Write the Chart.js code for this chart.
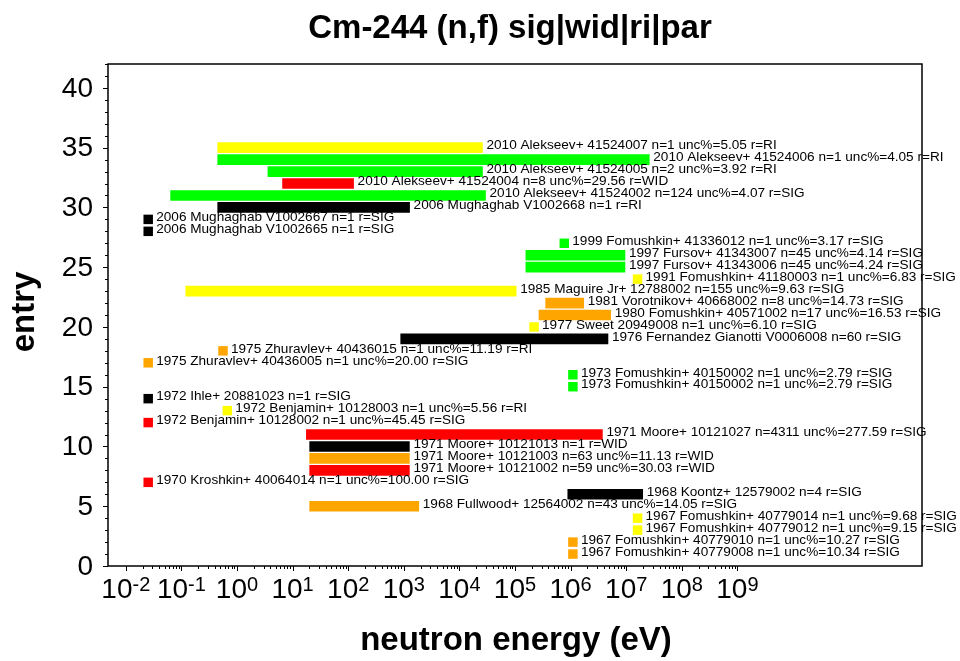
<!DOCTYPE html>
<html>
<head>
<meta charset="utf-8">
<script src="https://cdn.jsdelivr.net/npm/chart.js@4/dist/chart.umd.min.js"></script>
<style>
body { margin: 0; background: #fff; }
</style>
</head>
<body>
<canvas id="chart" width="960" height="661"></canvas>
<script>
// one entry per row, top of the plot first
var rows     = [35, 34, 33, 32, 31, 30, 29, 28, 27, 26, 25, 24, 23, 22, 21, 20, 19, 18, 17, 16, 15, 14, 13, 12, 11, 10, 9, 8, 7, 6, 5, 4, 3, 2, 1]
var years    = [2010, 2010, 2010, 2010, 2010, 2006, 2006, 2006, 1999, 1997, 1997, 1991, 1985, 1981, 1980, 1977, 1976, 1975, 1975, 1973, 1973, 1972, 1972, 1972, 1971, 1971, 1971, 1971, 1970, 1968, 1968, 1967, 1967, 1967, 1967]
var authors  = ["Alekseev+", "Alekseev+", "Alekseev+", "Alekseev+", "Alekseev+", "Mughaghab", "Mughaghab", "Mughaghab", "Fomushkin+", "Fursov+", "Fursov+", "Fomushkin+", "Maguire Jr+", "Vorotnikov+", "Fomushkin+", "Sweet", "Fernandez Gianotti", "Zhuravlev+", "Zhuravlev+", "Fomushkin+", "Fomushkin+", "Ihle+", "Benjamin+", "Benjamin+", "Moore+", "Moore+", "Moore+", "Moore+", "Kroshkin+", "Koontz+", "Fullwood+", "Fomushkin+", "Fomushkin+", "Fomushkin+", "Fomushkin+"]
var entryIds = ["41524007", "41524006", "41524005", "41524004", "41524002", "V1002668", "V1002667", "V1002665", "41336012", "41343007", "41343006", "41180003", "12788002", "40668002", "40571002", "20949008", "V0006008", "40436015", "40436005", "40150002", "40150002", "20881023", "10128003", "10128002", "10121027", "10121013", "10121003", "10121002", "40064014", "12579002", "12564002", "40779014", "40779012", "40779010", "40779008"]
var counts   = [1, 1, 2, 8, 124, 1, 1, 1, 1, 45, 45, 1, 155, 8, 17, 1, 60, 1, 1, 1, 1, 1, 1, 1, 4311, 1, 63, 59, 1, 4, 43, 1, 1, 1, 1]
var uncs     = [5.05, 4.05, 3.92, 29.56, 4.07, null, null, null, 3.17, 4.14, 4.24, 6.83, 9.63, 14.73, 16.53, 6.10, null, 11.19, 20.00, 2.79, 2.79, null, 5.56, 45.45, 277.59, null, 11.13, 30.03, 100.00, null, 14.05, 9.68, 9.15, 10.27, 10.34]
var quantity = ["RI", "RI", "RI", "WID", "SIG", "RI", "SIG", "SIG", "SIG", "SIG", "SIG", "SIG", "SIG", "SIG", "SIG", "SIG", "SIG", "RI", "SIG", "SIG", "SIG", "SIG", "RI", "SIG", "SIG", "WID", "WID", "WID", "SIG", "SIG", "SIG", "SIG", "SIG", "SIG", "SIG"]
// energy range in eV (eHigh null = single energy point)
var eLow     = [0.45, 0.45, 3.6, 6.6, 0.064, 0.45, 0.0253, 0.0253, 7.7e5, 1.57e5, 1.57e5, 1.6e7, 0.12, 3.56e5, 2.7e5, 2.2e5, 880, 0.56, 0.0253, 1.1e6, 1.1e6, 0.0253, 0.67, 0.0253, 17.7, 20.3, 20.3, 20.3, 0.0253, 8.9e5, 20.3, 1.6e7, 1.6e7, 1.1e6, 1.1e6]
var eHigh    = [2.6e4, 2.6e7, 2.6e4, 125, 2.95e4, 1270, null, null, null, 9.5e6, 9.5e6, null, 1.05e5, 1.72e6, 5.25e6, null, 4.7e6, null, null, null, null, null, null, null, 3.73e6, 1260, 1260, 1260, null, 1.98e7, 1860, null, null, null, null]

var xTickExps = [-2, -1, 0, 1, 2, 3, 4, 5, 6, 7, 8, 9]
var yTickLabels = [0, 5, 10, 15, 20, 25, 30, 35, 40]

function uncColor(u) {
    if (u == null) return "#000000"
    if (u < 5) return "#00ff00"
    if (u < 10) return "#ffff00"
    if (u <= 20) return "#ffa500"
    return "#ff0000"
}

function entryLabel(i) {
    var s = years[i] + " " + authors[i] + " " + entryIds[i] + " n=" + counts[i]
    if (uncs[i] != null) s += " unc%=" + uncs[i].toFixed(2)
    return s + " r=" + quantity[i]
}

var barData = [], barColors = [], pointData = [], pointColors = []
for (var i = 0; i < rows.length; i++) {
    if (eHigh[i] != null) {
        barData.push({x: [eLow[i], eHigh[i]], y: rows[i]})
        barColors.push(uncColor(uncs[i]))
    } else {
        pointData.push({x: eLow[i], y: rows[i]})
        pointColors.push(uncColor(uncs[i]))
    }
}

var FONT = "'Liberation Sans', Arial, sans-serif"

var decorPlugin = {
    id: "decor",
    afterDatasetsDraw: function(chart) {
        var ctx = chart.ctx
        var area = chart.chartArea
        var xs = chart.scales.x
        var ys = chart.scales.y
        ctx.save()

        // frame
        ctx.strokeStyle = "#000"
        ctx.lineWidth = 1.5
        ctx.strokeRect(area.left, area.top, area.right - area.left, area.bottom - area.top)

        // y ticks, major every 5, minor every 1
        ctx.lineWidth = 1
        ctx.beginPath()
        for (var v = 0; v <= 42; v++) {
            var py = Math.round(ys.getPixelForValue(v)) + 0.5
            var len = (v % 5 == 0) ? 5 : 3
            ctx.moveTo(area.left - len, py)
            ctx.lineTo(area.left, py)
        }
        // x ticks, decades and 2..9 between them
        for (var k = 0; k < xTickExps.length; k++) {
            var d = xTickExps[k]
            var px = Math.round(xs.getPixelForValue(Math.pow(10, d))) + 0.5
            ctx.moveTo(px, area.bottom)
            ctx.lineTo(px, area.bottom + 5)
            if (k < xTickExps.length - 1) {
                for (var m = 2; m <= 9; m++) {
                    var pm = Math.round(xs.getPixelForValue(m * Math.pow(10, d))) + 0.5
                    ctx.moveTo(pm, area.bottom)
                    ctx.lineTo(pm, area.bottom + 3)
                }
            }
        }
        ctx.stroke()

        // y tick labels
        ctx.fillStyle = "#000"
        ctx.font = "28px " + FONT
        ctx.textAlign = "right"
        ctx.textBaseline = "middle"
        yTickLabels.forEach(function(v) {
            ctx.fillText(String(v), 93, ys.getPixelForValue(v) + 1)
        })

        // x tick labels 10^n
        ctx.textAlign = "left"
        ctx.textBaseline = "alphabetic"
        xTickExps.forEach(function(d) {
            var px = xs.getPixelForValue(Math.pow(10, d))
            ctx.font = "28px " + FONT
            var w1 = ctx.measureText("10").width
            ctx.font = "20px " + FONT
            var w2 = ctx.measureText(String(d)).width
            var x0 = px - (w1 + w2) / 2
            ctx.font = "28px " + FONT
            ctx.fillText("10", x0, 598)
            ctx.font = "20px " + FONT
            ctx.fillText(String(d), x0 + w1, 591)
        })

        // entry labels
        ctx.font = "13.6px " + FONT
        ctx.textBaseline = "middle"
        for (var i = 0; i < rows.length; i++) {
            var endX
            if (eHigh[i] != null) endX = xs.getPixelForValue(eHigh[i]) + 4
            else endX = xs.getPixelForValue(eLow[i]) + 8
            ctx.fillText(entryLabel(i), endX, ys.getPixelForValue(rows[i]) - 2)
        }

        // titles
        ctx.font = "bold 33px " + FONT
        ctx.textAlign = "center"
        ctx.textBaseline = "alphabetic"
        ctx.fillText("Cm-244 (n,f) sig|wid|ri|par", 510, 38)
        ctx.fillText("neutron energy (eV)", 516, 650)
        ctx.translate(34, 312)
        ctx.rotate(-Math.PI / 2)
        ctx.fillText("entry", 0, 0)
        ctx.restore()
    }
}

new Chart(document.getElementById("chart"), {
    type: "bar",
    data: {
        datasets: [{
            type: "bar",
            indexAxis: "y",
            data: barData,
            backgroundColor: barColors,
            borderWidth: 0,
            barThickness: 10
        }, {
            type: "scatter",
            data: pointData,
            pointStyle: "rect",
            pointRadius: 6.7,
            backgroundColor: pointColors,
            borderWidth: 0
        }]
    },
    options: {
        responsive: false,
        animation: false,
        devicePixelRatio: 1,
        layout: {
            padding: {left: 108, top: 64, right: 38, bottom: 95}
        },
        scales: {
            x: {
                type: "logarithmic",
                display: false,
                offset: false,
                min: Math.pow(10, -2.32),
                max: Math.pow(10, 12.32)
            },
            y: {
                type: "linear",
                display: false,
                offset: false,
                min: 0,
                max: 42
            }
        },
        plugins: {
            legend: {display: false},
            title: {display: false},
            tooltip: {enabled: false}
        }
    },
    plugins: [decorPlugin]
});
</script>
</body>
</html>
